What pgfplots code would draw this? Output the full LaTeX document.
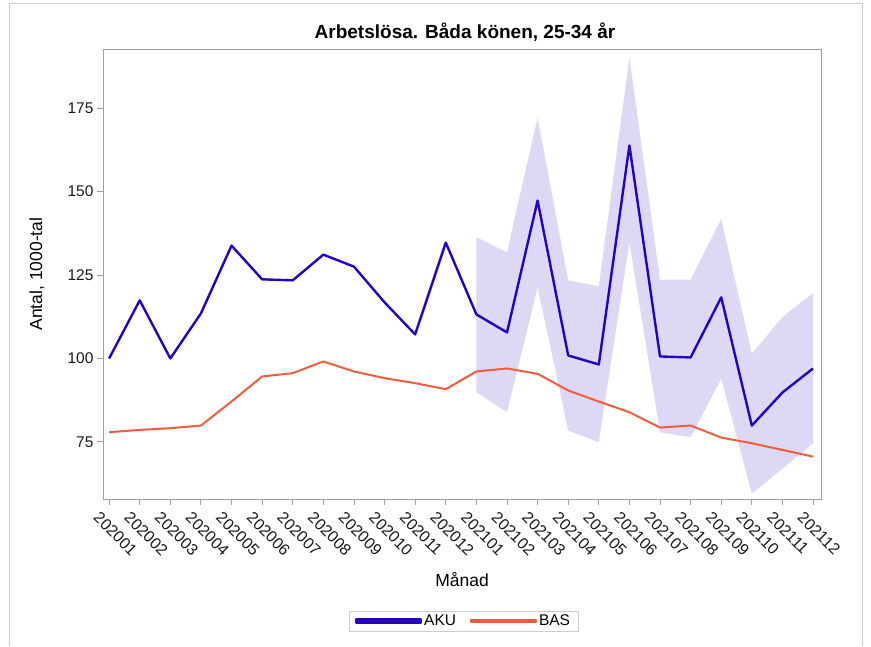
\documentclass[border=0pt]{standalone}
\usepackage{pgfplots}
\pgfplotsset{compat=1.18}
\usepgfplotslibrary{fillbetween}
\usepackage{fontspec}
\setmainfont{Liberation Sans}
\definecolor{aku}{RGB}{38,0,196}
\definecolor{bas}{RGB}{240,92,62}
\definecolor{bandc}{RGB}{221,217,244}
\definecolor{axgray}{RGB}{160,160,160}
\definecolor{frmgray}{RGB}{205,205,205}
\begin{document}
\begin{tikzpicture}
\draw[frmgray, line width=1pt] (9pt,0pt) -- (9pt,642pt) -- (862pt,642pt) -- (862pt,0pt);
\node[font=\fontsize{19}{21}\selectfont\bfseries] at (465pt,614pt) {Arbetslösa. Båda könen, 25-34 år};
\begin{axis}[
  at={(103pt,147pt)}, anchor=south west,
  scale only axis, width=718pt, height=450pt,
  xmin=-0.2, xmax=23.26, ymin=57.9, ymax=192.7,
  axis line style={axgray, line width=0.9pt},
  xtick={0,...,23},
  xticklabels={202001,202002,202003,202004,202005,202006,202007,202008,202009,202010,202011,202012,202101,202102,202103,202104,202105,202106,202107,202108,202109,202110,202111,202112},
  ytick={75,100,125,150,175},
  tick align=outside, tick pos=left,
  major tick length=6pt,
  tick style={axgray, line width=0.9pt},
  /pgf/number format/assume math mode=true,
  yticklabel style={font=\fontsize{15.5}{17}\selectfont, text=black!90},
  xticklabel style={font=\fontsize{16}{18}\selectfont, text=black!90, rotate=-45, anchor=north west, inner sep=1pt, xshift=-3pt, yshift=-9pt},
  xlabel={Månad}, ylabel={Antal, 1000-tal},
  xlabel style={font=\fontsize{17.5}{19}\selectfont, at={(axis description cs:0.5,-0.18)}, anchor=center},
  ylabel style={font=\fontsize{17.5}{19}\selectfont, at={(axis description cs:-0.092,0.5)}, anchor=center},
  legend style={at={(axis description cs:0.502,-0.271)}, anchor=center, draw=frmgray, font=\fontsize{15.5}{17}\selectfont, legend columns=2, /tikz/every even column/.append style={column sep=12pt}, inner xsep=6pt, inner ysep=2pt},
  legend image code/.code={\fill[#1] (0pt,-1.4pt) rectangle (65pt,1.4pt);},
  clip=false,
]
\addplot[name path=up, draw=none, forget plot] coordinates {
(12,136.3) (13,131.8) (14,172.2) (15,123.4) (16,121.6) (17,190.2) (18,123.6) (19,123.6) (20,141.8) (21,101.4) (22,112.4) (23,119.6)};
\addplot[name path=lo, draw=none, forget plot] coordinates {
(12,89.9) (13,83.9) (14,121.3) (15,78.4) (16,74.9) (17,134.8) (18,77.9) (19,76.4) (20,93.9) (21,59.5) (22,67.0) (23,74.5)};
\addplot[bandc, draw=none, forget plot] fill between[of=up and lo];
\addplot[aku, line width=2.4pt, line join=round] coordinates {
(0,100.0) (1,117.4) (2,100.0) (3,113.5) (4,133.8) (5,123.7) (6,123.4) (7,131.1) (8,127.5) (9,116.8) (10,107.2) (11,134.7) (12,113.2) (13,107.8) (14,147.3) (15,100.9) (16,98.2) (17,163.8) (18,100.6) (19,100.3) (20,118.3) (21,79.9) (22,89.8) (23,97.0)};
\addlegendentry{AKU}
\addplot[bas, line width=2pt, line join=round] coordinates {
(0,77.9) (1,78.6) (2,79.1) (3,79.9) (4,87.1) (5,94.6) (6,95.6) (7,99.1) (8,96.1) (9,94.1) (10,92.6) (11,90.8) (12,96.1) (13,97.0) (14,95.4) (15,90.4) (16,87.1) (17,83.9) (18,79.3) (19,79.9) (20,76.3) (21,74.6) (22,72.6) (23,70.6)};
\addlegendentry{BAS}
\end{axis}
\pgfresetboundingbox
\path[use as bounding box] (0pt,0pt) rectangle (871pt,646pt);
\end{tikzpicture}
\end{document}
